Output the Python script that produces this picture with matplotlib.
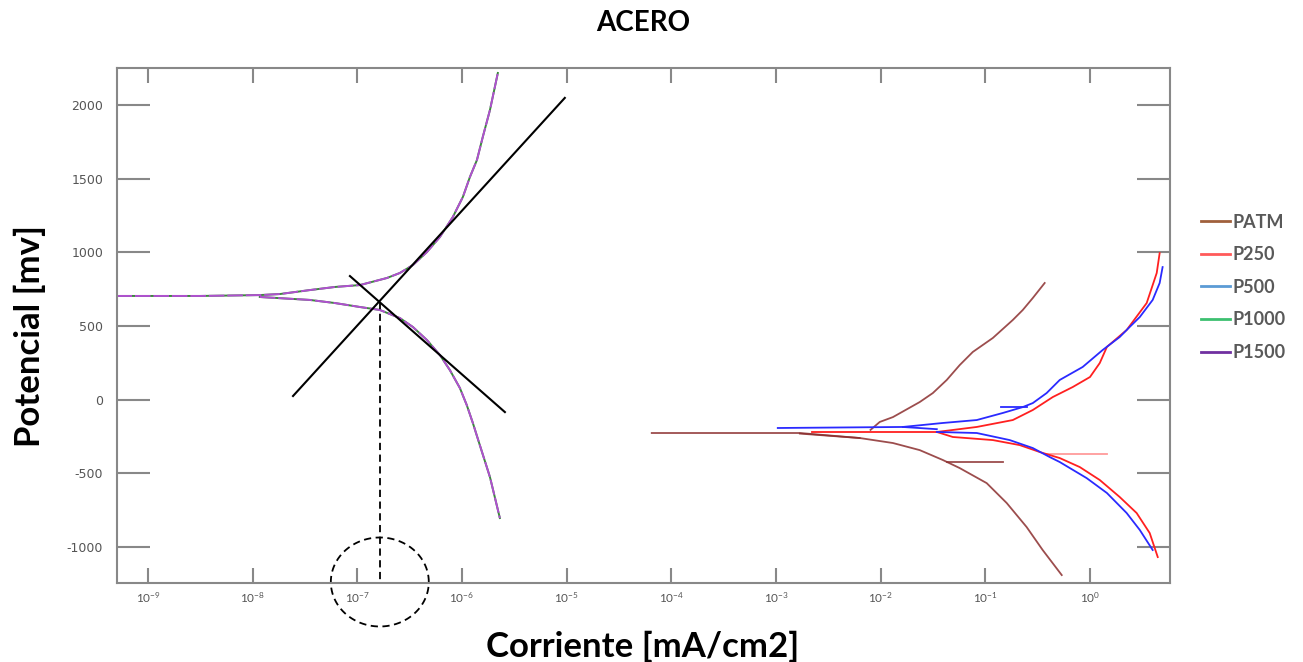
import numpy as np
import matplotlib.pyplot as plt
from matplotlib.lines import Line2D
from matplotlib.ticker import FixedLocator, NullLocator

plt.rcParams['font.family'] = ['Lato', 'DejaVu Sans']
plt.rcParams['axes.unicode_minus'] = False

# P1000 / P1500 (curves overlap) - current in mA/cm2, potential in mV
i_p1000_an = [5.0e-10, 3.16e-9, 1.17e-8, 1.82e-8, 3.52e-8, 6.11e-8, 1.06e-7, 1.92e-7, 2.55e-7, 3.40e-7,
              4.62e-7, 6.15e-7, 8.18e-7, 1.02e-6, 1.19e-6, 1.39e-6, 1.58e-6, 1.85e-6, 2.20e-6]
e_p1000_an = [704, 704, 710, 717, 744, 765, 778, 826, 860, 914, 1002, 1104, 1240, 1376, 1511, 1627, 1783, 1966, 2217]
i_p1000_cat = [1.17e-8, 3.52e-8, 6.11e-8, 1.06e-7, 1.64e-7, 2.55e-7, 3.40e-7, 4.62e-7, 6.15e-7, 7.66e-7,
               9.55e-7, 1.11e-6, 1.27e-6, 1.48e-6, 1.85e-6, 2.30e-6]
e_p1000_cat = [697, 677, 656, 629, 609, 554, 493, 405, 303, 201, 79, -36, -158, -308, -525, -803]
i_p1500_an = list(i_p1000_an)
e_p1500_an = list(e_p1000_an)
i_p1500_cat = list(i_p1000_cat)
e_p1500_cat = list(e_p1000_cat)

# PATM
i_patm_h = [6.5e-5, 1.69e-3, 6.3e-3]
e_patm_h = [-226, -226, -260]
i_patm_an = [8.0e-3, 9.8e-3, 1.31e-2, 2.36e-2, 3.15e-2, 4.28e-2, 5.69e-2, 7.59e-2, 0.118, 0.183, 0.228, 0.284, 0.369]
e_patm_an = [-205, -151, -118, -16, 45, 134, 235, 324, 419, 541, 609, 690, 792]
i_patm_cat = [1.69e-3, 6.3e-3, 1.31e-2, 2.36e-2, 3.92e-2, 5.69e-2, 0.103, 0.160, 0.248, 0.353, 0.537]
e_patm_cat = [-230, -260, -294, -342, -409, -464, -566, -701, -864, -1020, -1190]
i_patm_tr = [4.28e-2, 0.147]
e_patm_tr = [-423, -423]

# P250
i_p250_h = [2.2e-3, 3.44e-2]
e_p250_h = [-219, -219]
i_p250_an = [3.44e-2, 8.28e-2, 0.183, 0.284, 0.441, 0.684, 1.0, 1.24, 1.45, 2.24, 3.48, 4.34, 4.63]
e_p250_an = [-219, -185, -138, -70, 18, 86, 154, 249, 358, 473, 656, 860, 995]
i_p250_cat = [3.44e-2, 4.89e-2, 0.118, 0.213, 0.331, 0.514, 0.798, 1.24, 1.92, 2.79, 3.72, 4.44]
e_p250_cat = [-219, -253, -274, -308, -355, -396, -457, -545, -660, -769, -905, -1068]
i_p250_tr = [0.369, 1.45]
e_p250_tr = [-369, -369]

# P500
i_p500_h = [1.04e-3, 1.63e-2, 3.44e-2]
e_p500_h = [-192, -185, -200]
i_p500_an = [1.63e-2, 3.92e-2, 8.28e-2, 0.147, 0.228, 0.284, 0.385, 0.514, 0.851, 1.32, 1.92, 2.39, 2.99, 3.97, 4.63, 4.94]
e_p500_an = [-185, -158, -138, -90, -50, -23, 45, 134, 222, 337, 425, 493, 561, 677, 792, 900]
i_p500_cat = [3.44e-2, 8.28e-2, 0.171, 0.284, 0.412, 0.514, 0.929, 1.45, 2.24, 2.99, 3.97]
e_p500_cat = [-219, -226, -274, -328, -389, -423, -532, -633, -769, -884, -1020]
i_p500_tr = [0.141, 0.248]
e_p500_tr = [-50, -50]

# Tafel construction
tafel_an_i = [2.43e-8, 9.6e-6]
tafel_an_e = [25, 2048]
tafel_cat_i = [8.5e-8, 2.57e-6]
tafel_cat_e = [839, -84]
i_corr = 1.64e-7
e_corr = 663

labels = ['PATM', 'P250', 'P500', 'P1000', 'P1500']
legend_colors = ['#a0603c', '#ff5a5a', '#5b9bd5', '#3cc070', '#7030a0']

fig = plt.figure(figsize=(13.03, 6.62), dpi=100)
ax = fig.add_axes([0.0898, 0.1193, 0.8081, 0.7780])

c_patm = '#8b2e2e'
c_p250 = '#ff2020'
c_p500 = '#2a2aff'
for ii, ee in [(i_patm_h, e_patm_h), (i_patm_an, e_patm_an), (i_patm_cat, e_patm_cat), (i_patm_tr, e_patm_tr)]:
    ax.plot(ii, ee, color=c_patm, lw=1.3, alpha=0.85)
for ii, ee in [(i_p250_h, e_p250_h), (i_p250_an, e_p250_an), (i_p250_cat, e_p250_cat)]:
    ax.plot(ii, ee, color=c_p250, lw=1.3)
ax.plot(i_p250_tr, e_p250_tr, color=c_p250, lw=1.3, alpha=0.45)
for ii, ee in [(i_p500_h, e_p500_h), (i_p500_an, e_p500_an), (i_p500_cat, e_p500_cat), (i_p500_tr, e_p500_tr)]:
    ax.plot(ii, ee, color=c_p500, lw=1.3)

ax.plot(i_p1000_an, e_p1000_an, color='#3a8a3a', lw=1.4)
ax.plot(i_p1000_cat, e_p1000_cat, color='#3a8a3a', lw=1.4)
ax.plot(i_p1500_an, e_p1500_an, color='#b050d0', lw=1.4, dashes=(8, 1.5))
ax.plot(i_p1500_cat, e_p1500_cat, color='#b050d0', lw=1.4, dashes=(8, 1.5))

ax.plot(tafel_an_i, tafel_an_e, color='black', lw=1.5)
ax.plot(tafel_cat_i, tafel_cat_e, color='black', lw=1.5)
ax.plot([i_corr, i_corr], [e_corr, -1230], color='black', lw=1.3, dashes=(4, 2.5), clip_on=False)
t = np.linspace(0, 2 * np.pi, 200)
ax.plot(10 ** (np.log10(i_corr) + 0.468 * np.cos(t)), -1237 + 302 * np.sin(t),
        color='black', lw=1.3, dashes=(4, 2.5), clip_on=False)

ax.set_xscale('log')
ax.set_xlim(10 ** -9.296, 10 ** 0.764)
ax.set_ylim(-1244, 2251)
ax.xaxis.set_major_locator(FixedLocator([10.0 ** k for k in range(-9, 1)]))
ax.xaxis.set_minor_locator(NullLocator())
ax.set_yticks([-1000, -500, 0, 500, 1000, 1500, 2000])

for s in ax.spines.values():
    s.set_color('#888888')
    s.set_linewidth(1.5)
ax.tick_params(axis='x', direction='in', length=11, width=1.5, color='#888888',
               top=True, labelsize=8.5, labelcolor='#555555', pad=5)
ax.tick_params(axis='y', direction='in', length=24, width=1.5, color='#888888',
               right=True, labelsize=9, labelcolor='#555555', pad=10)
for lab in ax.get_yticklabels():
    lab.set_family('DejaVu Sans')

ax.set_xlabel('Corriente [mA/cm2]', fontsize=25, fontweight='bold')
ax.set_ylabel('Potencial [mv]', fontsize=25, fontweight='bold')
ax.xaxis.set_label_coords(0.4995, -0.092)
ax.yaxis.set_label_coords(-0.067, 0.479)
fig.suptitle('ACERO', x=0.4935, y=0.985, fontsize=20, fontweight='bold')

handles = [Line2D([0], [0], color=c, lw=2) for c in legend_colors]
leg = fig.legend(handles, labels, loc='center left', bbox_to_anchor=(0.909, 0.566), frameon=False,
                 fontsize=13, handlelength=1.6, handletextpad=0.15, labelspacing=0.86)
for txt in leg.get_texts():
    txt.set_color('#595959')
    txt.set_fontweight('bold')

fig.savefig('out.png', dpi=100)
